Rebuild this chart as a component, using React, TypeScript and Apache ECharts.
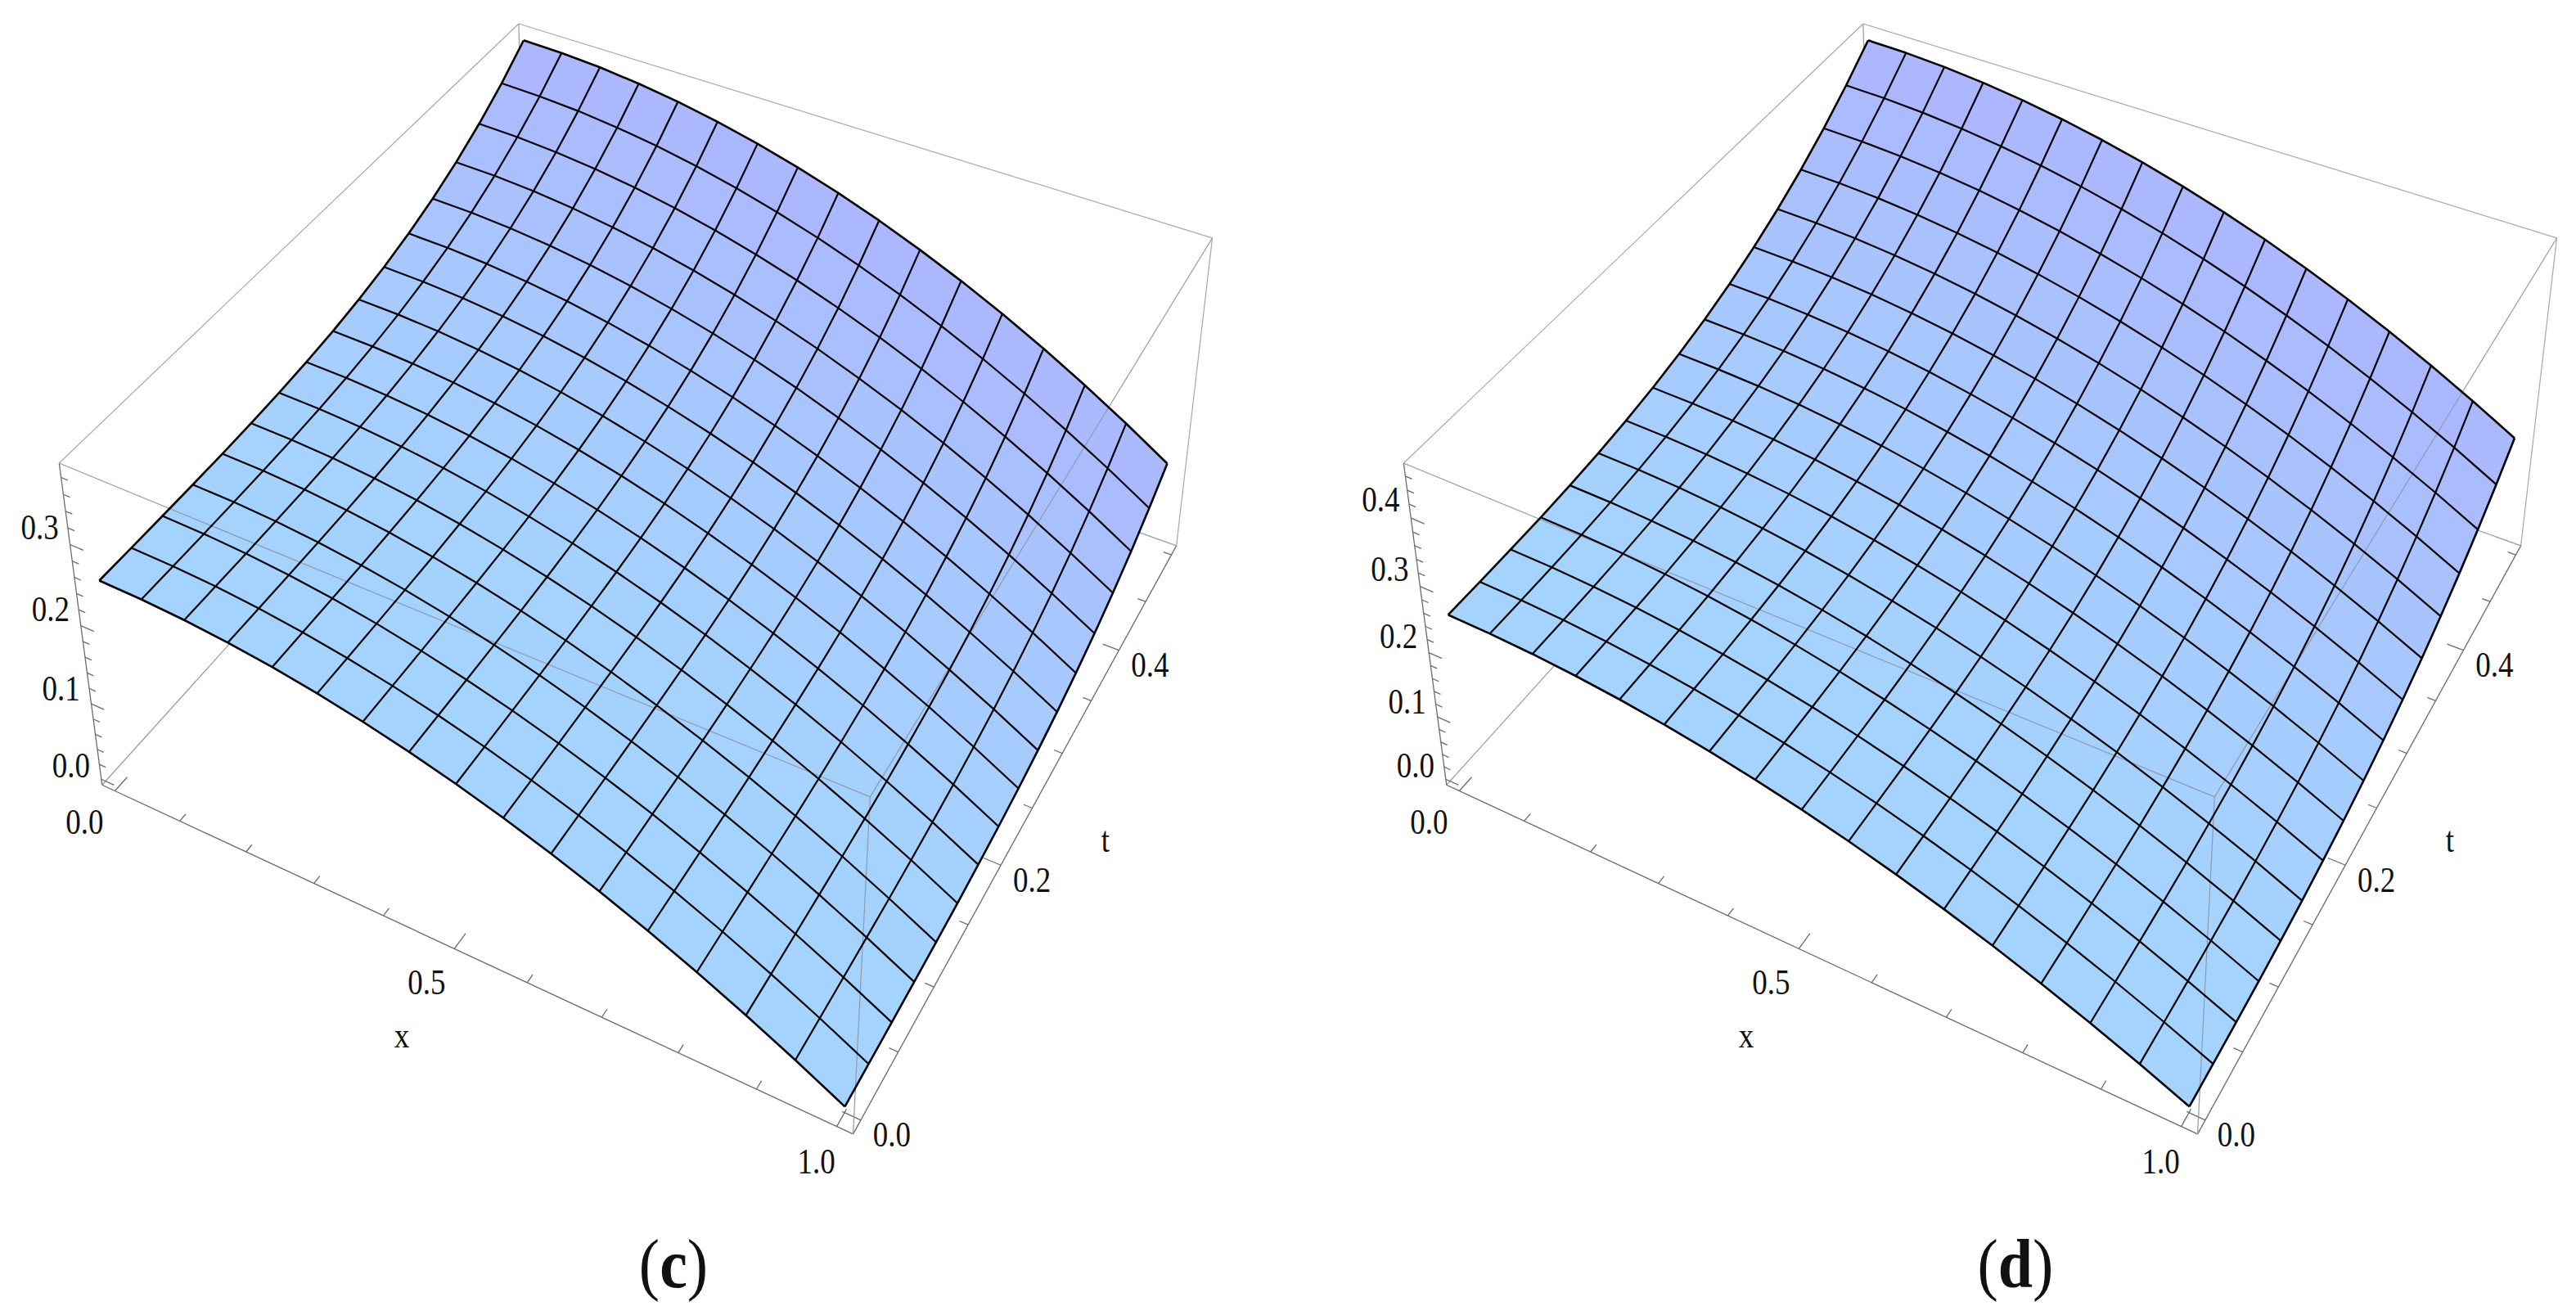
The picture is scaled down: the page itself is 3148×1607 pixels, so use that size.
import React, { useEffect, useRef } from "react";
import * as echarts from "echarts";

const W = 3148, H = 1607;
const N = 16;

// Surface heights: rows are t = 0 .. 0.5, columns x = 0 .. 1
const surfaceC = [
[.2500,.2490,.2461,.2412,.2344,.2256,.2148,.2021,.1875,.1709,.1523,.1318,.1094,.0850,.0586,.0303,.0000],
[.2500,.2490,.2461,.2412,.2344,.2256,.2148,.2021,.1875,.1709,.1523,.1318,.1094,.0850,.0586,.0303,.0000],
[.2501,.2491,.2462,.2413,.2345,.2257,.2149,.2022,.1876,.1710,.1524,.1319,.1095,.0851,.0587,.0304,.0001],
[.2505,.2495,.2466,.2417,.2349,.2261,.2153,.2026,.1879,.1713,.1527,.1322,.1098,.0854,.0590,.0307,.0004],
[.2513,.2503,.2473,.2424,.2356,.2268,.2160,.2033,.1887,.1721,.1535,.1329,.1105,.0861,.0597,.0313,.0010],
[.2527,.2517,.2488,.2438,.2370,.2282,.2174,.2047,.1900,.1734,.1548,.1342,.1118,.0873,.0609,.0325,.0021],
[.2550,.2540,.2510,.2461,.2393,.2305,.2196,.2069,.1922,.1755,.1569,.1363,.1138,.0893,.0628,.0344,.0040],
[.2584,.2574,.2544,.2495,.2427,.2338,.2229,.2101,.1954,.1787,.1600,.1394,.1168,.0923,.0657,.0372,.0067],
[.2632,.2622,.2592,.2543,.2474,.2385,.2276,.2148,.2000,.1832,.1644,.1437,.1211,.0964,.0698,.0412,.0105],
[.2697,.2686,.2657,.2607,.2538,.2449,.2339,.2210,.2062,.1893,.1704,.1496,.1268,.1021,.0752,.0465,.0157],
[.2781,.2771,.2741,.2691,.2622,.2532,.2421,.2291,.2142,.1972,.1782,.1573,.1344,.1094,.0824,.0535,.0225],
[.2889,.2879,.2849,.2798,.2728,.2637,.2526,.2395,.2244,.2073,.1881,.1670,.1439,.1188,.0915,.0623,.0311],
[.3023,.3012,.2982,.2931,.2860,.2769,.2656,.2524,.2372,.2199,.2005,.1791,.1558,.1304,.1029,.0734,.0418],
[.3186,.3176,.3145,.3093,.3021,.2929,.2815,.2681,.2527,.2352,.2155,.1939,.1703,.1445,.1167,.0868,.0549],
[.3383,.3372,.3341,.3289,.3216,.3122,.3006,.2870,.2714,.2536,.2337,.2118,.1878,.1616,.1334,.1031,.0706],
[.3616,.3605,.3574,.3520,.3446,.3350,.3233,.3094,.2935,.2754,.2552,.2329,.2085,.1819,.1531,.1223,.0893],
[.3890,.3879,.3847,.3792,.3717,.3619,.3499,.3358,.3196,.3011,.2804,.2577,.2328,.2057,.1763,.1449,.1112],
];

// Surface heights
const surfaceD = [
[.2500,.2490,.2461,.2412,.2344,.2256,.2148,.2021,.1875,.1709,.1523,.1318,.1094,.0850,.0586,.0303,.0000],
[.2501,.2491,.2462,.2413,.2345,.2257,.2149,.2022,.1876,.1710,.1524,.1319,.1095,.0851,.0587,.0304,.0001],
[.2507,.2497,.2468,.2418,.2350,.2262,.2154,.2027,.1881,.1715,.1529,.1324,.1100,.0856,.0592,.0308,.0005],
[.2520,.2510,.2481,.2432,.2364,.2276,.2168,.2040,.1894,.1728,.1542,.1336,.1112,.0868,.0603,.0320,.0016],
[.2545,.2535,.2506,.2457,.2389,.2300,.2192,.2065,.1918,.1751,.1565,.1359,.1134,.0889,.0624,.0340,.0036],
[.2584,.2574,.2545,.2496,.2427,.2339,.2230,.2102,.1955,.1788,.1601,.1394,.1169,.0923,.0657,.0373,.0067],
[.2641,.2631,.2601,.2552,.2483,.2394,.2285,.2156,.2009,.1841,.1653,.1445,.1219,.0972,.0705,.0419,.0113],
[.2716,.2706,.2677,.2627,.2558,.2468,.2358,.2229,.2081,.1912,.1723,.1514,.1286,.1038,.0769,.0481,.0173],
[.2815,.2804,.2775,.2724,.2655,.2564,.2454,.2324,.2174,.2004,.1813,.1603,.1373,.1123,.0852,.0562,.0252],
[.2937,.2927,.2897,.2846,.2776,.2685,.2573,.2442,.2290,.2119,.1926,.1714,.1482,.1230,.0956,.0663,.0350],
[.3087,.3077,.3047,.2995,.2924,.2832,.2719,.2586,.2433,.2259,.2065,.1850,.1615,.1360,.1084,.0787,.0470],
[.3267,.3257,.3226,.3174,.3102,.3008,.2894,.2759,.2604,.2428,.2230,.2013,.1775,.1516,.1236,.0935,.0614],
[.3479,.3468,.3437,.3384,.3310,.3215,.3099,.2962,.2805,.2626,.2425,.2204,.1962,.1699,.1415,.1110,.0783],
[.3724,.3713,.3682,.3628,.3553,.3457,.3338,.3199,.3038,.2856,.2652,.2427,.2181,.1913,.1623,.1312,.0980],
[.4007,.3996,.3963,.3908,.3832,.3733,.3612,.3470,.3306,.3120,.2912,.2682,.2431,.2158,.1862,.1545,.1205],
[.4328,.4317,.4283,.4227,.4149,.4048,.3925,.3779,.3612,.3421,.3208,.2973,.2716,.2437,.2134,.1810,.1462],
[.4690,.4678,.4644,.4587,.4507,.4403,.4277,.4127,.3956,.3760,.3542,.3301,.3038,.2751,.2441,.2108,.1752],
];

const xTicks = [0,0.1,0.2,0.3,0.4,0.5,0.6,0.7,0.8,0.9,1];
const tTicks = [0,0.05,0.1,0.15,0.2,0.25,0.3,0.35,0.4,0.45,0.5];
const xLabels = ["0.0","0.5","1.0"];
const tLabels = ["0.0","0.2","0.4"];
const zLabelsC = ["0.0","0.1","0.2","0.3"];
const zLabelsD = ["0.0","0.1","0.2","0.3","0.4"];
const zTicksC = [0,0.02,0.04,0.06,0.08,0.1,0.12,0.14,0.16,0.18,0.2,0.22,0.24,0.26,0.28,0.3,0.32,0.34,0.36,0.38];
const zTicksD = [0,0.02,0.04,0.06,0.08,0.1,0.12,0.14,0.16,0.18,0.2,0.22,0.24,0.26,0.28,0.3,0.32,0.34,0.36,0.38,0.4,0.42,0.44,0.46];

// Camera calibration: corners of the unit plot box -> view plane
const anchors: number[][] = [
  [0,0,0,124,958.5],[1,0,0,1043,1385.7],[1,1,0,1438,666],[0,1,0,644,386],
  [0,0,1,73,566],[1,0,1,1063,975],[1,1,1,1481,291],[0,1,1,634,28],
];
function solveCamera() {
  const A: number[][] = [], b: number[] = [];
  for (const [X,Y,Z,u0,v0] of anchors) {
    const u=u0/1000, v=v0/1000;
    A.push([X,Y,Z,1,0,0,0,0,-u*X,-u*Y,-u*Z]); b.push(u);
    A.push([0,0,0,0,X,Y,Z,1,-v*X,-v*Y,-v*Z]); b.push(v);
  }
  const n=11; const M:number[][]=[];
  for(let i=0;i<n;i++){const r:number[]=[];for(let j=0;j<n;j++){let t=0;for(let k=0;k<A.length;k++)t+=A[k][i]*A[k][j];r.push(t);}let t=0;for(let k=0;k<A.length;k++)t+=A[k][i]*b[k];r.push(t);M.push(r);}
  for(let c=0;c<n;c++){let p=c;for(let r=c+1;r<n;r++)if(Math.abs(M[r][c])>Math.abs(M[p][c]))p=r;[M[c],M[p]]=[M[p],M[c]];
    for(let r=0;r<n;r++){if(r===c)continue;const f=M[r][c]/M[c][c];for(let k=c;k<=n;k++)M[r][k]-=f*M[c][k];}}
  return M.map((r,i)=>r[n]/r[i]);
}
const P = solveCamera();
function project(X:number,Y:number,Z:number){
  const w=P[8]*X+P[9]*Y+P[10]*Z+1;
  return [1000*(P[0]*X+P[1]*Y+P[2]*Z+P[3])/w,1000*(P[4]*X+P[5]*Y+P[6]*Z+P[7])/w];
}
const PAD=0.02;
const bx=(x:number)=>(x+PAD)/(1+2*PAD);
const bt=(t:number)=>(t/0.5+PAD)/(1+2*PAD);

const serif="'Liberation Serif', serif";
const mk=(c:number[],d:number[],m:number)=>`rgb(${c.map((v,i)=>Math.round(v+(d[i]-v)*m)).join(",")})`;

function panelSeries(off:number,table:number[][],R:number,zTicks:number[],zLabels:string[],caption:string,capX:number,purple:number){
  const bz=(z:number)=>(z+PAD*R)/(R*(1+2*PAD));
  const pt=(api:any,X:number,Y:number,Z:number)=>{const p=project(X,Y,Z);return api.coord([p[0]+off,p[1]]);};
  const cells:number[][]=[];
  for(let j=0;j<N;j++)for(let i=0;i<N;i++)cells.push([i,j]);
  const surf=(i:number,j:number)=>[bx(i/N),bt(j/N*0.5),bz(table[j][i])];
  const lines:number[][]=[];
  for(let k=0;k<=N;k++){lines.push([0,k]);lines.push([1,k]);}
  const far:number[][]=[[0,0,0,0,1,0],[1,1,0,0,1,0],[0,1,0,0,1,1]];
  const farTop:number[][]=[[0,0,1,0,1,1],[0,1,1,1,1,1],[1,1,0,1,1,1]];
  const near:number[][]=[[0,0,1,1,0,1],[1,0,1,1,1,1],[1,0,0,1,0,1]];
  const axes:number[][]=[[0,0,0,1,0,0],[1,0,0,1,1,0],[0,0,0,0,0,1]];
  const segSeries=(data:number[][],stroke:string,lw:number,z:number)=>({
    type:"custom",coordinateSystem:"cartesian2d",silent:true,clip:false,z,data,
    renderItem:(_:any,api:any)=>{
      const a=[api.value(0),api.value(1),api.value(2)],b=[api.value(3),api.value(4),api.value(5)];
      const p=pt(api,a[0],a[1],a[2]),q=pt(api,b[0],b[1],b[2]);
      return {type:"line",shape:{x1:p[0],y1:p[1],x2:q[0],y2:q[1]},style:{stroke,lineWidth:lw}};
    }});
  const ticks:number[][]=[];
  xTicks.forEach((x,i)=>{const L=i%5===0?0.024:0.012;ticks.push([bx(x),0,0,bx(x),L,0]);});
  tTicks.forEach((t)=>{const major=Math.abs(t*5-Math.round(t*5))<1e-6;const L=major?0.022:0.011;ticks.push([1,bt(t),0,1-L,bt(t),0]);});
  zTicks.forEach((z)=>{const major=Math.abs(z*10-Math.round(z*10))<1e-6;const L=major?0.019:0.0095;ticks.push([0,0,bz(z),L,0,bz(z)]);});
  const texts:any[]=[];
  const xOff=[[-37,38],[-34,41],[-25,43]];
  xLabels.forEach((l,i)=>{const p=project(bx(i*0.5),0,0);texts.push([p[0]+xOff[i][0]+off,p[1]+xOff[i][1],l]);});
  tLabels.forEach((l,i)=>{const p=project(1,bt(i*0.2),0);texts.push([p[0]+38+off,p[1]+18,l]);});
  zLabels.forEach((l,i)=>{const p=project(0,0,bz(i*0.1));texts.push([p[0]-37+off,p[1]-17-i*1.5,l]);});
  texts.push([491+off,1265,"x"]);
  texts.push([1351+off,1026,"t"]);
  return [
    segSeries(far,"#9a9a9a",1.2,1),
    segSeries(farTop,"#a8a8a8",1.2,1),
    {type:"custom",coordinateSystem:"cartesian2d",silent:true,clip:false,z:3,data:cells,
     renderItem:(_:any,api:any)=>{
       const i=api.value(0),j=api.value(1);
       const pts=[surf(i,j),surf(i+1,j),surf(i+1,j+1),surf(i,j+1)].map(q=>pt(api,q[0],q[1],q[2]));
       const T=(j+0.5)/N,Xx=(i+0.5)/N;
       const m=Math.min(1,Math.pow(T,purple)*(1-0.05*Xx)+0.02);
       const fill=mk([164,212,255],[172,182,255],m);
       return {type:"polygon",shape:{points:pts},style:{fill,stroke:fill,lineWidth:0.6}};
     }},
    segSeries(near,"#8f9aa8",1.2,4),
    {type:"custom",coordinateSystem:"cartesian2d",silent:true,clip:false,z:5,data:lines,
     renderItem:(_:any,api:any)=>{
       const dir=api.value(0),k=api.value(1);const pts:number[][]=[];
       for(let m=0;m<=N;m++){const q=dir===0?surf(k,m):surf(m,k);pts.push(pt(api,q[0],q[1],q[2]));}
       return {type:"polyline",shape:{points:pts},style:{stroke:"#000",lineWidth:(k===0||k===N)?2.6:2.2,fill:null,lineJoin:"round"}};
     }},
    segSeries(axes,"#6a6a6a",1.3,2),
    segSeries(ticks,"#6a6a6a",1.3,2),
    {type:"custom",coordinateSystem:"cartesian2d",silent:true,clip:false,z:6,data:texts.map(t=>[t[0],t[1]]),
     renderItem:(p0:any,api:any)=>{
       const p=api.coord([api.value(0),api.value(1)]);
       return {type:"text",x:p[0],y:p[1],scaleY:1.18,style:{text:texts[p0.dataIndex][2],fontFamily:serif,fontSize:37,fill:"#111",align:"center",verticalAlign:"middle"}};
     }},
    {type:"custom",coordinateSystem:"cartesian2d",silent:true,clip:false,z:6,data:[[capX,1544]],
     renderItem:(_:any,api:any)=>{
       const p=api.coord([api.value(0),api.value(1)]);
       return {type:"text",x:p[0],y:p[1],scaleY:1.12,style:{text:`{a|(}{b|${caption}}{a|)}`,align:"center",verticalAlign:"middle",rich:{a:{fontFamily:serif,fontSize:76,fill:"#111"},b:{fontFamily:serif,fontSize:76,fontWeight:"bold",fill:"#111"}}}};
     }},
  ];
}

export default function App(){
  const ref=useRef<HTMLDivElement>(null);
  useEffect(()=>{
    document.body.style.margin="0";
    const chart=echarts.init(ref.current!,undefined,{renderer:"svg"});
    chart.setOption({
      animation:false,backgroundColor:"#fff",
      grid:{left:0,right:0,top:0,bottom:0},
      xAxis:{type:"value",min:0,max:W,show:false},
      yAxis:{type:"value",min:0,max:H,inverse:true,show:false},
      series:[
        ...panelSeries(0,surfaceC,0.389,zTicksC,zLabelsC,"c",823,2.2),
        ...panelSeries(1643,surfaceD,0.469,zTicksD,zLabelsD,"d",2463,1.9),
      ],
    });
    return ()=>chart.dispose();
  },[]);
  return <div ref={ref} style={{width:W,height:H,position:"absolute",left:0,top:0}}/>;
}
